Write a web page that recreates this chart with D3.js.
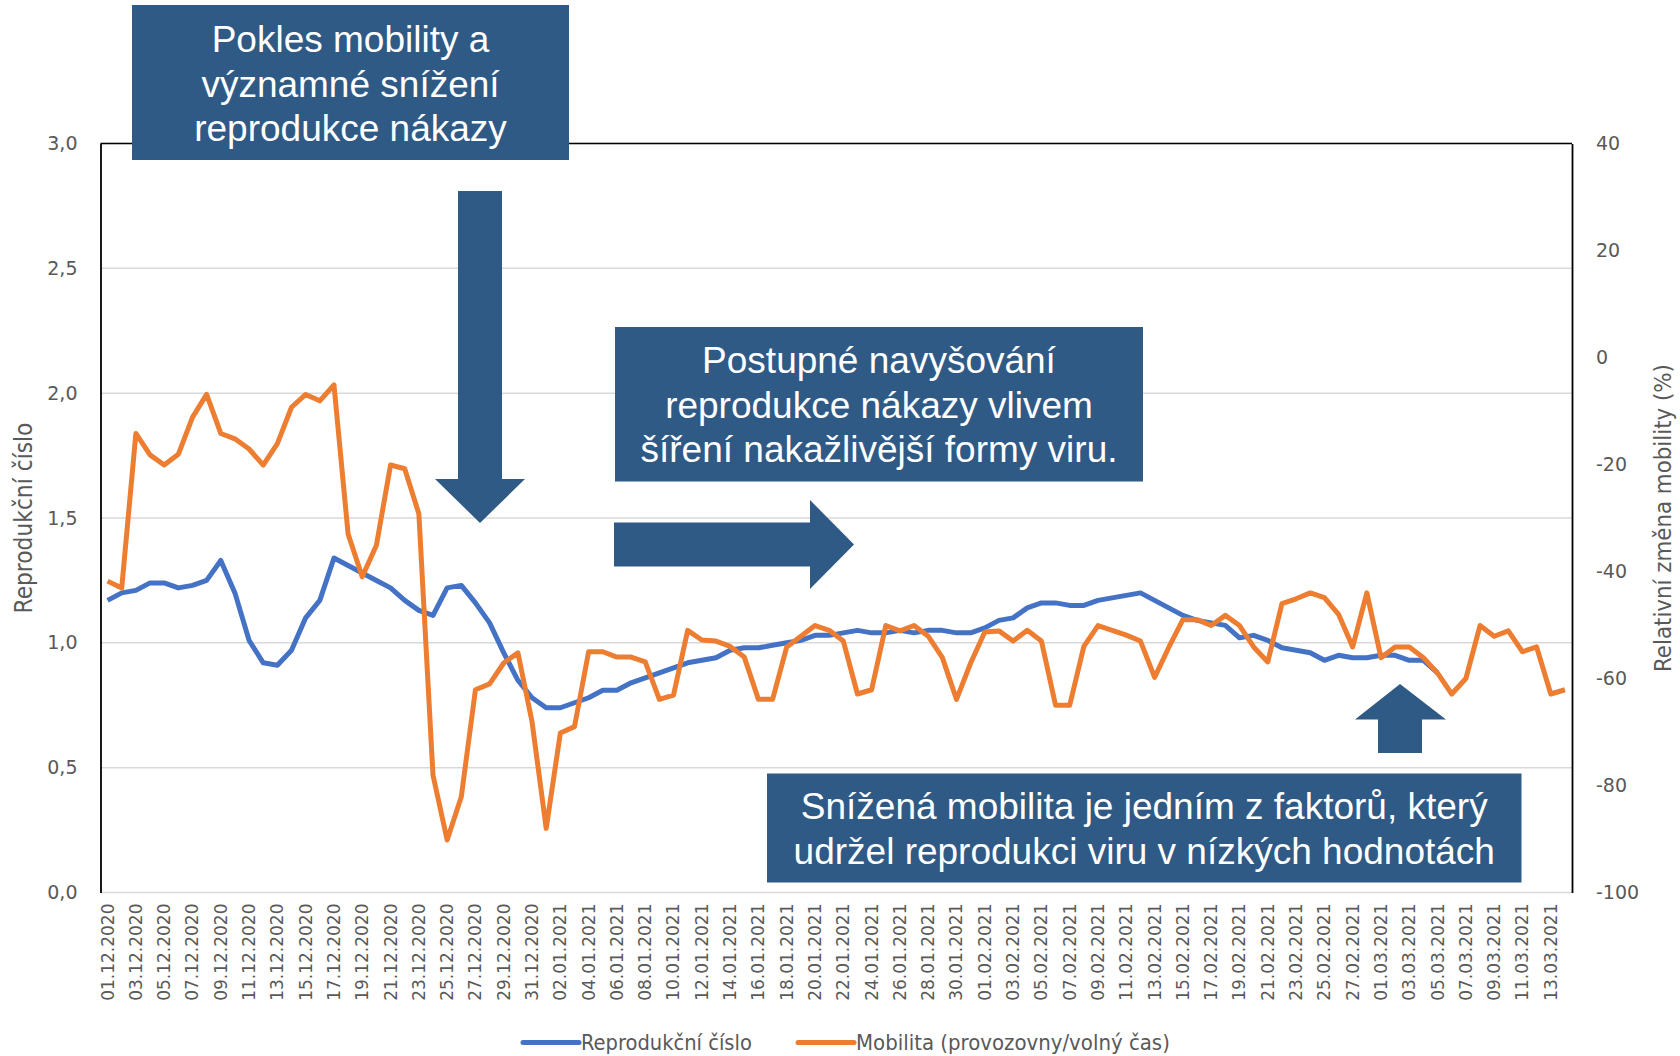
<!DOCTYPE html>
<html>
<head>
<meta charset="utf-8">
<script src="https://cdn.jsdelivr.net/npm/d3@7"></script>
<style>
  html, body { margin: 0; padding: 0; background: #fff; }
  svg { display: block; }
</style>
</head>
<body>
<svg id="chart" width="1680" height="1056"></svg>
<script>
// ---------- DATA ----------
const firstDay = new Date(2020, 11, 1);
const lastDayExclusive = new Date(2021, 2, 15);
const categories = d3.timeDay.range(firstDay, lastDayExclusive).map(d3.timeFormat("%d.%m.%Y"));

const reprodukcniCislo = [
  1.17, 1.20, 1.21, 1.24, 1.24, 1.22, 1.23, 1.25, 1.33, 1.20,
  1.01, 0.92, 0.91, 0.97, 1.10, 1.17, 1.34, 1.31, 1.28, 1.25,
  1.22, 1.17, 1.13, 1.11, 1.22, 1.23, 1.16, 1.08, 0.96, 0.85,
  0.78, 0.74, 0.74, 0.76, 0.78, 0.81, 0.81, 0.84, 0.86, 0.88,
  0.90, 0.92, 0.93, 0.94, 0.97, 0.98, 0.98, 0.99, 1.00, 1.01,
  1.03, 1.03, 1.04, 1.05, 1.04, 1.04, 1.05, 1.04, 1.05, 1.05,
  1.04, 1.04, 1.06, 1.09, 1.10, 1.14, 1.16, 1.16, 1.15, 1.15,
  1.17, 1.18, 1.19, 1.20, 1.17, 1.14, 1.11, 1.09, 1.08, 1.07,
  1.02, 1.03, 1.01, 0.98, 0.97, 0.96, 0.93, 0.95, 0.94, 0.94,
  0.95, 0.95, 0.93, 0.93, 0.88
];

const mobilita = [
  -41.8, -43.1, -14.2, -18.2, -20.1, -18.1, -11.2, -6.9, -14.2, -15.2,
  -17.1, -20.1, -16.1, -9.3, -6.9, -8.1, -5.1, -33.0, -41.0, -35.1,
  -20.1, -20.8, -29.2, -78.1, -90.2, -82.1, -62.1, -61.0, -57.1, -55.2,
  -68.1, -88.0, -70.2, -69.0, -55.0, -55.0, -56.0, -56.0, -56.9, -63.9,
  -63.1, -51.0, -52.8, -53.0, -54.0, -56.0, -63.9, -63.9, -54.1, -52.1,
  -50.1, -51.0, -53.0, -62.9, -62.1, -50.1, -51.1, -50.1, -52.1, -56.1,
  -63.9, -57.1, -51.3, -51.1, -53.0, -51.0, -53.0, -65.0, -65.0, -54.0,
  -50.1, -51.0, -51.9, -53.0, -59.8, -54.2, -49.0, -49.0, -50.1, -48.2,
  -50.1, -54.1, -56.9, -46.0, -45.1, -44.0, -44.9, -48.0, -54.1, -44.0,
  -56.1, -54.1, -54.1, -56.1, -59.0, -62.9, -60.0, -50.1, -52.1, -51.1,
  -55.0, -54.1, -62.9, -62.1
];

const leftTicks = [0, 0.5, 1.0, 1.5, 2.0, 2.5, 3.0];
const rightTicks = [-100, -80, -60, -40, -20, 0, 20, 40];
const seriesNames = ["Reprodukční číslo", "Mobilita (provozovny/volný čas)"];
const leftTitle = "Reprodukční číslo";
const rightTitle = "Relativní změna mobility (%)";
const notes = [
  ["Pokles mobility a", "významné snížení", "reprodukce nákazy"],
  ["Postupné navyšování", "reprodukce nákazy vlivem", "šíření nakažlivější formy viru."],
  ["Snížená mobilita je jedním z faktorů, který", "udržel reprodukci viru v nízkých hodnotách"]
];

// ---------- LAYOUT ----------
const P = { l: 100.5, r: 1572, t: 143.5, b: 892.5 };
const BLUE = "#4472C4", ORANGE = "#ED7D31", NAVY = "#2F5A85", GREY = "#595959", GRID = "#D9D9D9";
const svg = d3.select("#chart");

const x = d3.scaleBand().domain(d3.range(categories.length)).range([P.l, P.r]);
const cx = i => x(i) + x.bandwidth() / 2;
const yL = d3.scaleLinear().domain([0, 3]).range([P.b, P.t]);
const yR = d3.scaleLinear().domain([-100, 40]).range([P.b, P.t]);

// gridlines
svg.append("g").selectAll("line").data(leftTicks).join("line")
  .attr("x1", P.l).attr("x2", P.r)
  .attr("y1", d => yL(d)).attr("y2", d => yL(d))
  .attr("stroke", GRID).attr("stroke-width", 1.5);
// top border
svg.append("line").attr("x1", P.l).attr("x2", P.r).attr("y1", P.t).attr("y2", P.t)
  .attr("stroke", "#000").attr("stroke-width", 1.5);

// axes
const fmtL = d => d3.format(".1f")(d).replace(".", ",");
const fmtR = d => String(d);
const gL = svg.append("g").attr("transform", `translate(${P.l},0)`)
  .call(d3.axisLeft(yL).tickValues(leftTicks).tickFormat(fmtL).tickSize(0).tickPadding(23));
const gR = svg.append("g").attr("transform", `translate(${P.r},0)`)
  .call(d3.axisRight(yR).tickValues(rightTicks).tickFormat(fmtR).tickSize(0).tickPadding(24));
[gL, gR].forEach(g => {
  g.select(".domain").attr("stroke", "#000").attr("stroke-width", 1.8);
  g.selectAll("text").attr("fill", GREY).style("font-family", "'DejaVu Sans', sans-serif").style("font-size", "19px");
});

const gX = svg.append("g").attr("transform", `translate(0,${P.b})`)
  .call(d3.axisBottom(x).tickValues(d3.range(0, categories.length, 2)).tickFormat(i => categories[i]).tickSize(0));
gX.select(".domain").remove();
gX.selectAll("text")
  .attr("fill", GREY).style("font-family", "'DejaVu Sans', sans-serif").style("font-size", "17px")
  .attr("text-anchor", "end").attr("dy", "0.35em")
  .attr("transform", "translate(0,11) rotate(-90)")
  .attr("x", 0).attr("y", 0);

// lines
const lineL = d3.line().x((d, i) => cx(i)).y(d => yL(d));
const lineR = d3.line().x((d, i) => cx(i)).y(d => yR(d));
svg.append("path").datum(reprodukcniCislo).attr("d", lineL)
  .attr("fill", "none").attr("stroke", BLUE).attr("stroke-width", 5).attr("stroke-linejoin", "round");
svg.append("path").datum(mobilita).attr("d", lineR)
  .attr("fill", "none").attr("stroke", ORANGE).attr("stroke-width", 5).attr("stroke-linejoin", "round");

// fit helper for narrow texts
function fitText(sel, target) {
  const w = sel.node().getComputedTextLength();
  const fs = parseFloat(sel.style("font-size"));
  sel.style("font-size", (fs * target / w) + "px");
}
const narrow = "'Liberation Sans Narrow', 'Arial Narrow', 'DejaVu Sans Condensed', sans-serif";

// axis titles
const tL = svg.append("text").text(leftTitle)
  .attr("transform", `translate(24,${(P.t + P.b) / 2}) rotate(-90)`)
  .attr("text-anchor", "middle").attr("dy", "0.35em")
  .attr("fill", GREY).style("font-family", narrow).style("font-size", "22px");
fitText(tL, 191);
const tR = svg.append("text").text(rightTitle)
  .attr("transform", `translate(1663,${(P.t + P.b) / 2}) rotate(-90)`)
  .attr("text-anchor", "middle").attr("dy", "0.35em")
  .attr("fill", GREY).style("font-family", narrow).style("font-size", "22px");
fitText(tR, 308);

// legend
const legend = [
  { name: seriesNames[0], color: BLUE, x0: 523, x1: 579, tx: 581, w: 171 },
  { name: seriesNames[1], color: ORANGE, x0: 798, x1: 854, tx: 856, w: 314 }
];
legend.forEach(l => {
  svg.append("line").attr("x1", l.x0).attr("x2", l.x1).attr("y1", 1042.5).attr("y2", 1042.5)
    .attr("stroke", l.color).attr("stroke-width", 5).attr("stroke-linecap", "round");
  const t = svg.append("text").text(l.name).attr("x", l.tx).attr("y", 1042.5).attr("dy", "0.35em")
    .attr("fill", GREY).style("font-family", narrow).style("font-size", "21px");
  fitText(t, l.w);
});

// annotations
const ann = svg.append("g");
function box(x0, y0, x1, y1, lines, baselines) {
  ann.append("rect").attr("x", x0).attr("y", y0).attr("width", x1 - x0).attr("height", y1 - y0).attr("fill", NAVY);
  lines.forEach((s, k) => {
    ann.append("text").text(s).attr("x", (x0 + x1) / 2).attr("y", baselines[k])
      .attr("text-anchor", "middle").attr("fill", "#fff")
      .style("font-family", "'Liberation Sans', Arial, sans-serif").style("font-size", "37px");
  });
}
box(132, 5, 569, 160, notes[0], [52, 96.5, 140.5]);
box(615, 327, 1143, 481.5, notes[1], [373, 417.5, 462]);
box(767, 773.5, 1521.5, 882.5, notes[2], [819, 863.5]);

// arrows
const arrow = pts => ann.append("polygon").attr("points", pts.map(p => p.join(",")).join(" ")).attr("fill", NAVY);
arrow([[458, 191], [502, 191], [502, 479], [525, 479], [480, 523], [435, 479], [458, 479]]);
arrow([[614, 522.5], [810, 522.5], [810, 500], [854, 544.5], [810, 589], [810, 566.5], [614, 566.5]]);
arrow([[1400, 684], [1446, 719.5], [1422, 719.5], [1422, 753], [1378, 753], [1378, 719.5], [1355, 719.5]]);
</script>
</body>
</html>
